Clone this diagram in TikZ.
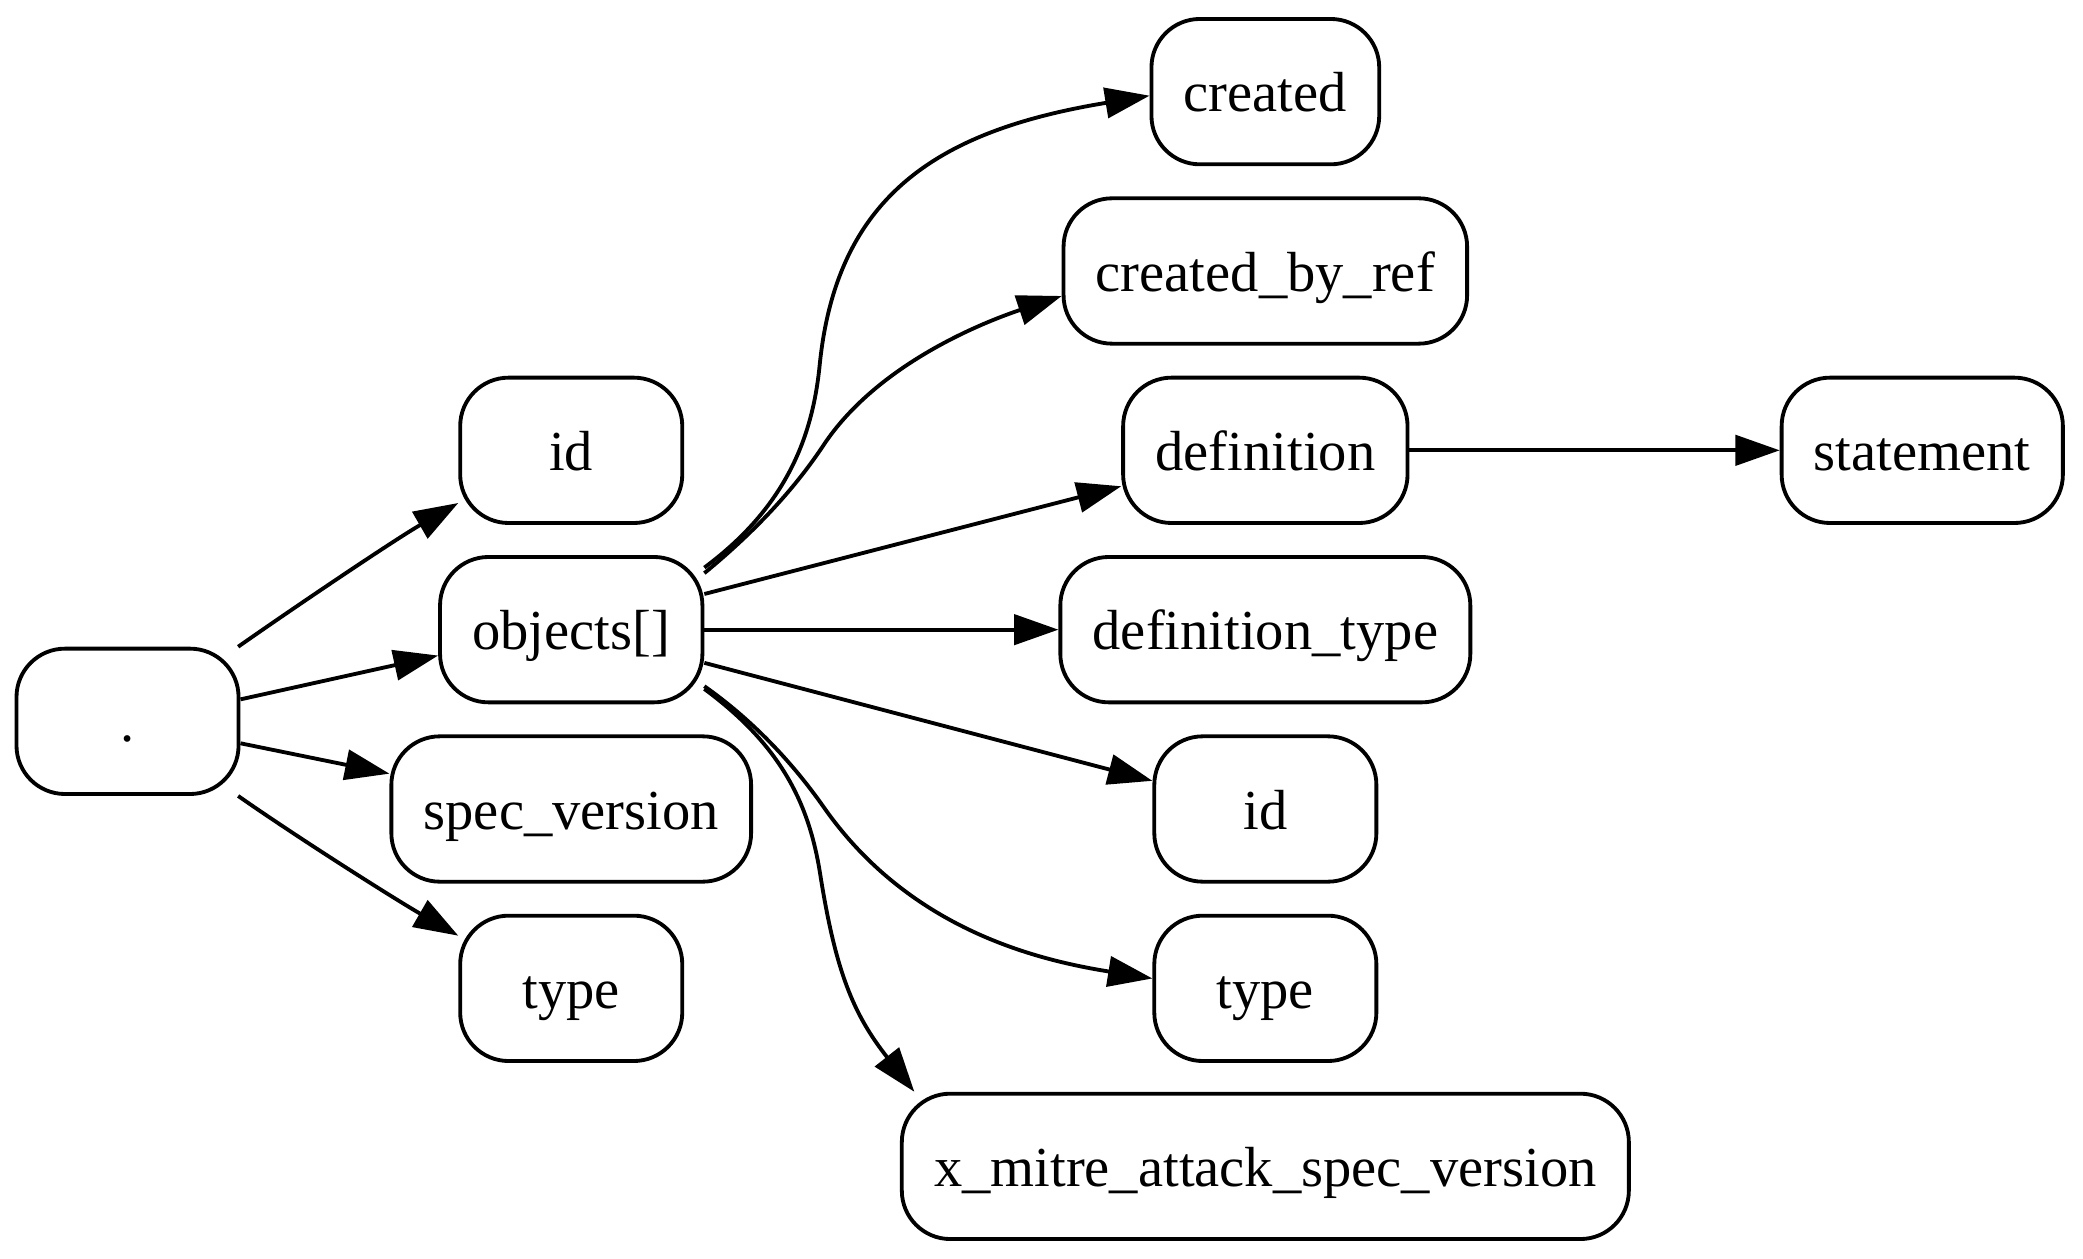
\documentclass[tikz,border=0pt]{standalone}
\usepackage{fontspec}
\setmainfont{Liberation Serif}
\usetikzlibrary{arrows.meta}

\tikzset{
  field/.style={
      draw,
      line width=0.95pt,
      rounded corners=12pt,
      minimum height=36pt,
      minimum width=55pt,
      inner xsep=8pt,
      text height=11.5pt, %< -- keeps every baseline at the same place
      text depth=1.5pt,
      font=\fontsize{14}{17}\selectfont
  },
  link/.style={-{Triangle[length=11pt,width=7.5pt]}, line width=0.95pt}
}

\begin{document}
\begin{tikzpicture}[x=0.329pt, y=0.329pt]
\useasboundingbox (0,0) rectangle (1568,-947);

% root and its fields
\node[field] (root) at (96,-543) {.};
\node[field] (id) at (430,-339) {id};
\node[field] (objects) at (430,-474) {objects[]};
\node[field] (specversion) at (430,-609) {spec\_version};
\node[field] (type) at (430,-744) {type};

% fields of objects[]
\node[field] (created) at (952.5,-69) {created};
\node[field] (createdbyref) at (952.5,-204) {created\_by\_ref};
\node[field] (definition) at (952.5,-339) {definition};
\node[field] (definitiontype) at (952.5,-474) {definition\_type};
\node[field] (objid) at (952.5,-609) {id};
\node[field] (objtype) at (952.5,-744) {type};
\node[field] (xmitre) at (952.5,-878) {x\_mitre\_attack\_spec\_version};

\node[field] (statement) at (1447,-339) {statement};

\draw[link] (root.34) .. controls +(35:55) and +(210:55) .. (id.205);
\draw[link] (root.11) -- (objects.191);
\draw[link] (root.-11) -- (specversion.169.5);
\draw[link] (root.-34) .. controls +(-35:55) and +(150:55) .. (type.155);

\draw[link] (objects.25) .. controls (594.6,-379.6) and (612,-324.8) .. (617,-275)
  .. controls (629.9,-145.6) and (708.2,-97.9) .. (created.182);
\draw[link] (objects.23) .. controls (564.4,-403.3) and (595.7,-371.7) .. (620,-335)
  .. controls (658.7,-276.7) and (733.8,-244.8) .. (createdbyref.187);
\draw[link] (objects.15.5) -- (definition.194);
\draw[link] (objects.east) -- (definitiontype.west);
\draw[link] (objects.-14.5) -- (objid.166);
\draw[link] (objects.-23) .. controls (565.3,-541.3) and (595.3,-572.3) .. (620,-607.5)
  .. controls (683.1,-697.6) and (776.3,-722) .. (objtype.175);
\draw[link] (objects.-24.5) .. controls (586.6,-560.3) and (608.7,-603.1) .. (617.3,-657.4)
  .. controls (629,-731.5) and (642.4,-763.6) .. (xmitre.168);

\draw[link] (definition.east) -- (statement.west);
\end{tikzpicture}
\end{document}
